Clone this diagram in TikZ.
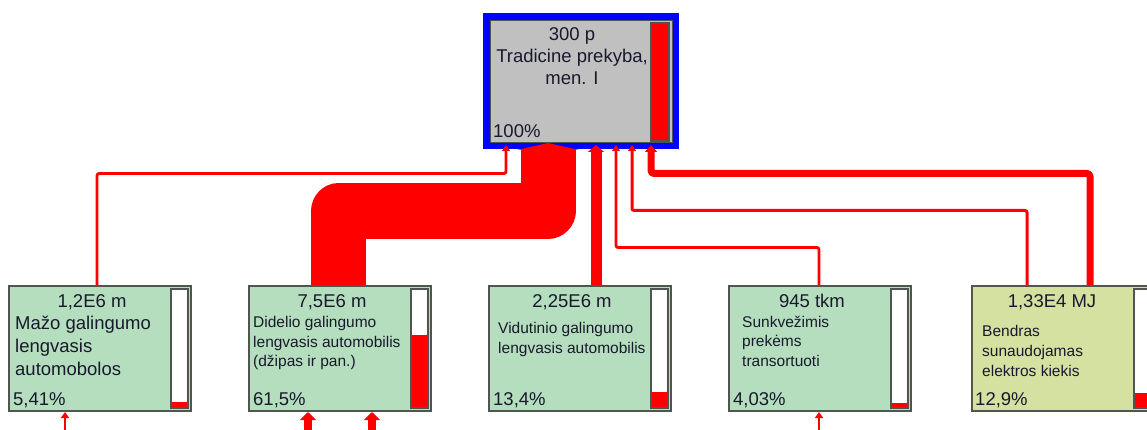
\documentclass[tikz,border=0pt]{standalone}
\usepackage{fontspec}
\setmainfont{Liberation Sans}
\usetikzlibrary{arrows.meta}
\definecolor{boxgreen}{RGB}{180,222,190}
\definecolor{boxyellow}{RGB}{212,225,160}
\definecolor{boxgray}{RGB}{192,192,192}
\definecolor{edge}{RGB}{80,85,80}
\definecolor{frameblue}{RGB}{0,0,255}
\definecolor{txt}{RGB}{25,25,45}
\tikzset{
  procbox/.style={rectangle, draw=edge, line width=2pt, minimum width=182pt, minimum height=125pt, inner sep=0pt, fill=boxgreen},
  bigtxt/.style={inner sep=0pt, text=txt, font=\fontsize{18.5}{22}\selectfont},
  smalltxt/.style={inner sep=0pt, text=txt, font=\fontsize{15.5}{19}\selectfont},
  barframe/.style={draw=edge, line width=1.5pt, fill=white},
  barfill/.style={fill=red},
  flow/.style={draw=red, line join=round},
  thinflow/.style={flow, line width=2.8pt, rounded corners=2pt, -{Triangle[width=8pt,length=6pt]}},
}
\begin{document}
\begin{tikzpicture}[x=1pt,y=-1pt]
\useasboundingbox (0,0) rectangle (1147,430);
\clip (0,0) rectangle (1147,430);
\fill[white] (0,0) rectangle (1147,430);

% top process
\node[rectangle, draw=frameblue, line width=7pt, minimum width=189pt, minimum height=129pt, inner sep=0pt] (top) at (581,81) {};
\node[rectangle, fill=boxgray, draw=edge, line width=1.2pt, minimum width=182pt, minimum height=122pt, inner sep=0pt] (topin) at (581.5,81.5) {};
\draw[barframe, fill=red] (651,23) rectangle (669,141);
\node[bigtxt, anchor=base] (t1) at (572,41) {300 p};
\node[bigtxt, anchor=base] (t2) at (572,63) {Tradicine prekyba,};
\node[bigtxt, anchor=base] (t3) at (572,85) {men. I};
\node[bigtxt, anchor=base west] (t4) at (493,138) {100\%};

% bottom processes
\node[procbox] (b1) at (100,348.5) {};
\node[procbox] (b2) at (340,348.5) {};
\node[procbox] (b3) at (580,348.5) {};
\node[procbox] (b4) at (820,348.5) {};
\node[procbox, fill=boxyellow] (b5) at (1063,348.5) {};

% level bars
\draw[barframe] (171,289) rectangle (188,408);
\fill[barfill] (171,401.6) rectangle (188,408);
\draw[draw=edge, line width=1.5pt] (171,289) rectangle (188,408);
\draw[barframe] (411,289) rectangle (428,408);
\fill[barfill] (411,334.8) rectangle (428,408);
\draw[draw=edge, line width=1.5pt] (411,289) rectangle (428,408);
\draw[barframe] (651,289) rectangle (668,408);
\fill[barfill] (651,392.1) rectangle (668,408);
\draw[draw=edge, line width=1.5pt] (651,289) rectangle (668,408);
\draw[barframe] (891,289) rectangle (908,408);
\fill[barfill] (891,403.2) rectangle (908,408);
\draw[draw=edge, line width=1.5pt] (891,289) rectangle (908,408);
\draw[barframe] (1134,289) rectangle (1151,408);
\fill[barfill] (1134,392.6) rectangle (1151,408);
\draw[draw=edge, line width=1.5pt] (1134,289) rectangle (1151,408);

% box 1 texts
\node[bigtxt, anchor=base] (a1) at (92,307) {1,2E6 m};
\node[bigtxt, anchor=base west] (l11) at (15,329) {Mažo galingumo};
\node[bigtxt, anchor=base west] (l12) at (15,352) {lengvasis};
\node[bigtxt, anchor=base west] (l13) at (15,375) {automobolos};
\node[bigtxt, anchor=base west] (p1) at (13,405) {5,41\%};
% box 2 texts
\node[bigtxt, anchor=base] (a2) at (332,307) {7,5E6 m};
\node[smalltxt, anchor=base west] (l21) at (253,327) {Didelio galingumo};
\node[smalltxt, anchor=base west] (l22) at (253,347) {lengvasis automobilis};
\node[smalltxt, anchor=base west] (l23) at (253,366) {(džipas ir pan.)};
\node[bigtxt, anchor=base west] (p2) at (253,405) {61,5\%};
% box 3 texts
\node[bigtxt, anchor=base] (a3) at (572,307) {2,25E6 m};
\node[smalltxt, anchor=base west] (l31) at (498,333) {Vidutinio galingumo};
\node[smalltxt, anchor=base west] (l32) at (498,353) {lengvasis automobilis};
\node[bigtxt, anchor=base west] (p3) at (493,405) {13,4\%};
% box 4 texts
\node[bigtxt, anchor=base] (a4) at (812,307) {945 tkm};
\node[smalltxt, anchor=base west] (l41) at (742,327) {Sunkvežimis};
\node[smalltxt, anchor=base west] (l42) at (742,346) {prekėms};
\node[smalltxt, anchor=base west] (l43) at (742,366) {transortuoti};
\node[bigtxt, anchor=base west] (p4) at (733,405) {4,03\%};
% box 5 texts
\node[bigtxt, anchor=base] (a5) at (1052,307) {1,33E4 MJ};
\node[smalltxt, anchor=base west] (l51) at (982,336) {Bendras};
\node[smalltxt, anchor=base west] (l52) at (982,356) {sunaudojamas};
\node[smalltxt, anchor=base west] (l53) at (982,376) {elektros kiekis};
\node[bigtxt, anchor=base west] (p5) at (975,405) {12,9\%};

% flows into the top process
\draw[thinflow] ([xshift=-3pt]b1.north) -- ++(0,-111.5) -| ([xshift=-75pt,yshift=4pt]top.south);
\draw[flow, line width=55pt, -{Triangle[width=62pt,length=7pt]}] ([xshift=-1.5pt]b2.north) -- ++(0,-74) -| ([xshift=-33pt,yshift=6pt]top.south);
\draw[flow, line width=11pt, -{Triangle[width=16pt,length=7pt]}] ([xshift=16pt]b3.north) -- ([xshift=15pt,yshift=4pt]top.south);
\draw[thinflow] ([xshift=-1pt]b4.north) -- ++(0,-37.5) -| ([xshift=35pt,yshift=4pt]top.south);
\draw[thinflow, line width=3pt] ([xshift=-36pt]b5.north) -- ++(0,-74.5) -| ([xshift=51pt,yshift=4pt]top.south);
\draw[flow, line width=7pt, rounded corners=3pt, -{Triangle[width=12pt,length=7pt]}] ([xshift=27pt]b5.north) -- ++(0,-111.5) -| ([xshift=70pt,yshift=4pt]top.south);

% incoming flows from below (cut off)
\coordinate (in1) at (65,432);
\coordinate (in2a) at (308,432);
\coordinate (in2b) at (372,432);
\coordinate (in4) at (819,432);
\draw[thinflow, line width=2pt] (in1) -- (b1.south -| in1);
\draw[flow, line width=8pt, -{Triangle[width=16pt,length=8pt]}] (in2a) -- (b2.south -| in2a);
\draw[flow, line width=8pt, -{Triangle[width=16pt,length=8pt]}] (in2b) -- (b2.south -| in2b);
\draw[thinflow, line width=2pt] (in4) -- (b4.south -| in4);
\end{tikzpicture}
\end{document}
